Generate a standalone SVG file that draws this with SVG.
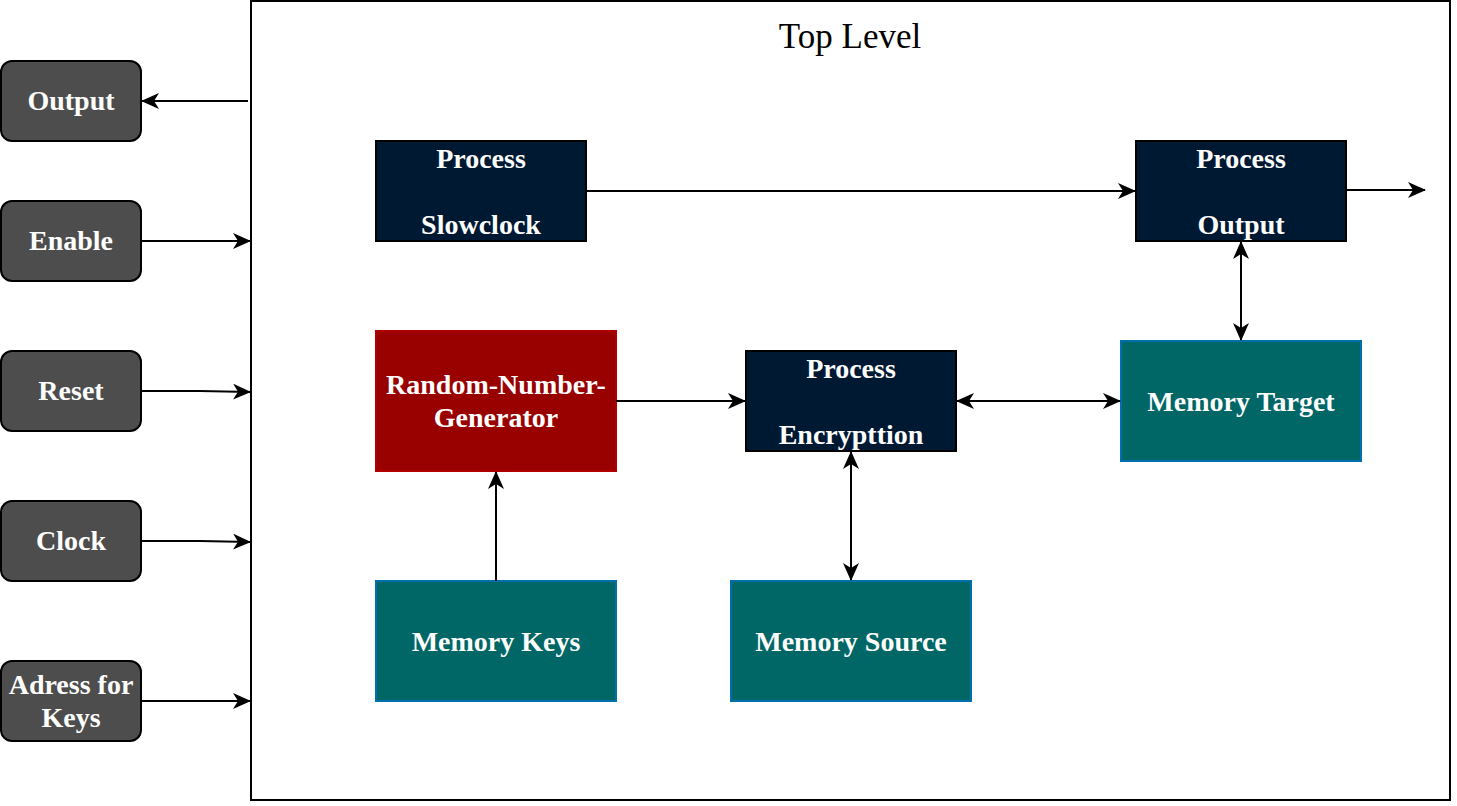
<svg xmlns="http://www.w3.org/2000/svg" width="1457" height="806" viewBox="0 0 1457 806">
<defs>
<marker id="arr" viewBox="0 0 18 16" refX="17" refY="8" markerWidth="18" markerHeight="16" markerUnits="userSpaceOnUse" orient="auto-start-reverse">
<path d="M0,0 L18,8 L0,16 L5,8 Z" fill="#000"/>
</marker>
<style>
.t{font-family:'Liberation Serif','Times New Roman',serif;font-weight:bold;font-size:28px;fill:#fff;text-anchor:middle}
.io{fill:#4D4D4D;stroke:#000;stroke-width:2}
.proc{fill:#001933;stroke:#000;stroke-width:2}
.mem{fill:#006666;stroke:#006EAF;stroke-width:2}
.rng{fill:#990000;stroke:#B20000;stroke-width:2}
.c{stroke:#000;stroke-width:2;fill:none}
</style>
</defs>
<g id="top-level">
<rect x="251" y="1" width="1199" height="799" fill="#fff" stroke="#000" stroke-width="2"/>
<text x="850" y="48" font-family="Liberation Serif, Times New Roman, serif" font-size="35" text-anchor="middle" fill="#000">Top Level</text>
</g>
<g id="output-in"><rect class="io" x="1" y="61" width="140" height="80" rx="11"/><text class="t" x="71" y="110">Output</text></g>
<g id="enable"><rect class="io" x="1" y="201" width="140" height="80" rx="11"/><text class="t" x="71" y="250">Enable</text></g>
<g id="reset"><rect class="io" x="1" y="351" width="140" height="80" rx="11"/><text class="t" x="71" y="400">Reset</text></g>
<g id="clock"><rect class="io" x="1" y="501" width="140" height="80" rx="11"/><text class="t" x="71" y="550">Clock</text></g>
<g id="adress"><rect class="io" x="1" y="661" width="140" height="80" rx="11"/><text class="t" x="71" y="694">Adress for</text><text class="t" x="71" y="727">Keys</text></g>
<g id="proc-slowclock"><rect class="proc" x="376" y="141" width="210" height="100"/><text class="t" x="481" y="168">Process</text><text class="t" x="481" y="234">Slowclock</text></g>
<g id="proc-output"><rect class="proc" x="1136" y="141" width="210" height="100"/><text class="t" x="1241" y="168">Process</text><text class="t" x="1241" y="234">Output</text></g>
<g id="rng"><rect class="rng" x="376" y="331" width="240" height="140"/><text class="t" x="496" y="394">Random-Number-</text><text class="t" x="496" y="427">Generator</text></g>
<g id="proc-encryption"><rect class="proc" x="746" y="351" width="210" height="100"/><text class="t" x="851" y="378">Process</text><text class="t" x="851" y="444">Encrypttion</text></g>
<g id="mem-target"><rect class="mem" x="1121" y="341" width="240" height="120"/><text class="t" x="1241" y="411">Memory Target</text></g>
<g id="mem-keys"><rect class="mem" x="376" y="581" width="240" height="120"/><text class="t" x="496" y="651">Memory Keys</text></g>
<g id="mem-source"><rect class="mem" x="731" y="581" width="240" height="120"/><text class="t" x="851" y="651">Memory Source</text></g>
<g id="connectors">
<path class="c" d="M248,101 H142" marker-end="url(#arr)"/>
<path class="c" d="M141,241 H250" marker-end="url(#arr)"/>
<path class="c" d="M141,391 H200 L250,392" marker-end="url(#arr)"/>
<path class="c" d="M141,541 H200 L250,542" marker-end="url(#arr)"/>
<path class="c" d="M141,701 H250" marker-end="url(#arr)"/>
<path class="c" d="M586,191 H1135" marker-end="url(#arr)"/>
<path class="c" d="M1346,190 H1425" marker-end="url(#arr)"/>
<path class="c" d="M616,401 H745" marker-end="url(#arr)"/>
<path class="c" d="M957,401 H1120" marker-start="url(#arr)" marker-end="url(#arr)"/>
<path class="c" d="M851,452 V580" marker-start="url(#arr)" marker-end="url(#arr)"/>
<path class="c" d="M1241,242 V340" marker-start="url(#arr)" marker-end="url(#arr)"/>
<path class="c" d="M496,581 V472" marker-end="url(#arr)"/>
</g>
</svg>
